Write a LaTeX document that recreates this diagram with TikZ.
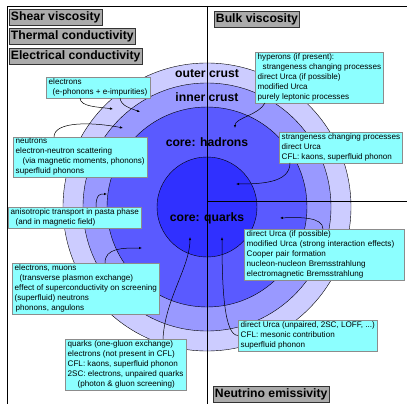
\documentclass[tikz,border=0pt]{standalone}
\usepackage{fontspec}
\setmainfont{Liberation Sans}
\usetikzlibrary{arrows.meta, positioning, calc}
\definecolor{outercrust}{RGB}{204,204,255}
\definecolor{innercrust}{RGB}{153,153,255}
\definecolor{hadroncore}{RGB}{90,90,255}
\definecolor{quarkcore}{RGB}{48,48,255}
\definecolor{boxcyan}{RGB}{140,255,255}

\begin{document}
\begin{tikzpicture}[x=1pt, y=-1pt,
  title/.style={draw=black!80, fill=black!33, line width=0.9pt, anchor=north west,
    font=\bfseries\fontsize{12.2}{13}\selectfont, inner sep=1.5pt, minimum height=16pt},
  info/.style={draw=black!45, fill=boxcyan, anchor=north west, align=left,
    font=\fontsize{8.1}{10}\selectfont, inner xsep=2.5pt, inner ysep=1.5pt},
  layer/.style={font=\bfseries\fontsize{12.2}{14}\selectfont},
  arr/.style={-{Latex[length=3pt,width=2.4pt]}, line width=0.5pt}]
  \useasboundingbox (0,0) rectangle (407,404);
  % layers of the star
  \filldraw[fill=outercrust, line width=0.4pt] (207,207) circle (144pt);
  \filldraw[fill=innercrust, line width=0.4pt] (207,207) circle (124pt);
  \filldraw[fill=hadroncore, line width=0.4pt] (207,207) circle (100pt);
  \filldraw[fill=quarkcore, line width=0.4pt] (207,207) circle (50pt);
  % frame and quadrants
  \draw[line width=0.8pt] (7,404) -- (7,6) -- (407,6);
  \draw[line width=0.8pt] (207,6) -- (207,404);
  \draw[line width=0.8pt] (207,201) -- (407,201);
  \node[layer] (outer) at (207,74) {outer crust};
  \node[layer] (inner) at (207,97) {inner crust};
  \node[layer] (hadrons) at (207,142) {core: hadrons};
  \node[layer] (quarks) at (207,218) {core: quarks};
  % quantities
  \node[title] (shear) at (9,9) {Shear viscosity};
  \node[title] (thermal) at (9,28) {Thermal conductivity};
  \node[title] (elcond) at (9,48) {Electrical conductivity};
  \node[title] (bulk) at (214,11) {Bulk viscosity};
  \node[title] (emiss) at (213,386) {Neutrino emissivity};
  % processes
  \node[info] (elec) at (46,77) {electrons\\\hspace{4pt}(e-phonons + e-impurities)};
  \node[info] (neut) at (13,137) {neutrons\\electron-neutron scattering\\\hspace{7pt}(via magnetic moments, phonons)\\superfluid phonons};
  \node[info] (aniso) at (8,207) {anisotropic transport in pasta phase\\\hspace{5pt}(and in magnetic field)};
  \node[info] (emu) at (12,263) {electrons, muons\\\hspace{5pt}(transverse plasmon exchange)\\effect of superconductivity on screening\\(superfluid) neutrons\\\hspace{1pt}phonons, angulons};
  \node[info] (quark) at (65,339) {quarks (one-gluon exchange)\\electrons (not present in CFL)\\CFL: kaons, superfluid phonon\\2SC: electrons, unpaired quarks\\\hspace{10pt}(photon \& gluon screening)};
  \node[info] (hyp) at (255,52) {hyperons (if present):\\\hspace{5pt}strangeness changing processes\\direct Urca (if possible)\\modified Urca\\purely leptonic processes};
  \node[info] (strange) at (279,132) {strangeness changing processes\\direct Urca\\CFL: kaons, superfluid phonon};
  \node[info, text width=155pt] (urca) at (244,229) {direct Urca (if possible)\\modified Urca (strong interaction effects)\\Cooper pair formation\\nucleon-nucleon Bremsstrahlung\\electromagnetic Bremsstrahlung};
  \node[info] (unp) at (238,320) {direct Urca (unpaired, 2SC, LOFF, ...)\\CFL: mesonic contribution\\superfluid phonon};
  % arrow targets
  \coordinate (t1) at (113,109);
  \coordinate (t2) at (140,112);
  \coordinate (t3) at (123,128);
  \coordinate (t4) at (107,194);
  \coordinate (t5) at (142,248);
  \coordinate (t6) at (190,237);
  \coordinate (t7) at (222,237);
  \coordinate (t8) at (280,218);
  \coordinate (t9) at (236,184);
  \coordinate (t10) at (235,128);
  \draw[arr] ([xshift=34pt]elec.south west) .. controls +(0,9) and +(-14,-2) .. (t1);
  \draw[arr] ([xshift=74pt]elec.south west) .. controls +(1,8) and +(-10,-4) .. (t2);
  \draw[arr] ([xshift=41pt]neut.north west) .. controls +(0,-16) and +(-30,-6) .. (t3);
  \draw[arr] ([xshift=88pt]aniso.north west) .. controls +(0,-14) and +(-6,0) .. (t4);
  \draw[arr] ([xshift=93pt]emu.north west) .. controls +(0,-15) and +(-20,0) .. (t5);
  \draw[arr] ([xshift=98pt]quark.north west) .. controls +(2,-40) and +(0,30) .. (t6);
  \draw[arr] (unp.west) .. controls +(-14,0) and +(0,50) .. (t7);
  \draw[arr] ([xshift=79pt]urca.north west) .. controls +(0,-12) and +(20,-1) .. (t8);
  \draw[arr] ([xshift=11pt]strange.south west) .. controls +(0,20) and +(25,0) .. (t9);
  \draw[arr] ([xshift=10pt]hyp.south west) .. controls +(-6,12) and +(0,-10) .. (t10);
\end{tikzpicture}
\end{document}
